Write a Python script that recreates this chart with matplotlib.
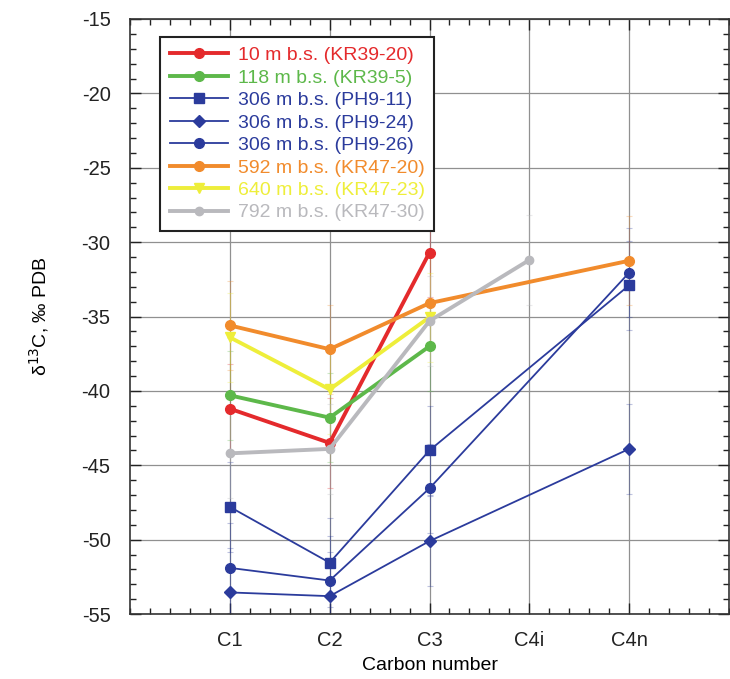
import matplotlib
matplotlib.use("Agg")
import matplotlib.pyplot as plt
from matplotlib.ticker import MultipleLocator, FixedLocator
import numpy as np

plt.rcParams['font.family'] = ['Liberation Sans', 'DejaVu Sans']
plt.rcParams['axes.unicode_minus'] = False

categories = ["C1", "C2", "C3", "C4i", "C4n"]

labels = ["10 m b.s. (KR39-20)", "118 m b.s. (KR39-5)", "306 m b.s. (PH9-11)",
          "306 m b.s. (PH9-24)", "306 m b.s. (PH9-26)", "592 m b.s. (KR47-20)",
          "640 m b.s. (KR47-23)", "792 m b.s. (KR47-30)"]

# x category per series and values
kr39_20_x = ["C1", "C2", "C3"]
kr39_20 = [-41.2, -43.5, -30.7]
kr39_5_x = ["C1", "C2", "C3"]
kr39_5 = [-40.3, -41.8, -37.0]
ph9_11_x = ["C1", "C2", "C3", "C4n"]
ph9_11 = [-47.8, -51.55, -44.0, -32.9]
ph9_24_x = ["C1", "C2", "C3", "C4n"]
ph9_24 = [-53.55, -53.8, -50.1, -43.9]
ph9_26_x = ["C1", "C2", "C3", "C4n"]
ph9_26 = [-51.9, -52.75, -46.55, -32.05]
kr47_20_x = ["C1", "C2", "C3", "C4n"]
kr47_20 = [-35.6, -37.2, -34.1, -31.25]
kr47_23_x = ["C1", "C2", "C3"]
kr47_23 = [-36.4, -39.9, -35.05]
kr47_30_x = ["C1", "C2", "C3", "C4i"]
kr47_30 = [-44.2, -43.9, -35.3, -31.2]

# approximate analytical uncertainty (faint error bars)
err = 3.0

colors = ["#e42a2c", "#5db84a", "#2b3b9c", "#2b3b9c", "#2b3b9c",
          "#f18b2c", "#eeee3a", "#b9b9bd"]
markers = ["o", "o", "s", "D", "o", "o", "v", "o"]
lws = [2.8, 2.8, 1.3, 1.3, 1.3, 2.8, 2.8, 2.8]
msizes = [7, 7, 7.5, 6.5, 7, 7, 7, 6]

series_x = [kr39_20_x, kr39_5_x, ph9_11_x, ph9_24_x, ph9_26_x, kr47_20_x, kr47_23_x, kr47_30_x]
series_y = [kr39_20, kr39_5, ph9_11, ph9_24, ph9_26, kr47_20, kr47_23, kr47_30]

fig = plt.figure(figsize=(7.30, 6.79), dpi=100)
ax = fig.add_axes([130/730, 1-614/679, 599/730, (614-19)/679])

pos = {c: i + 1 for i, c in enumerate(categories)}

for xs, ys, c, m, lw, ms, lab in zip(series_x, series_y, colors, markers, lws, msizes, labels):
    xp = [pos[x] for x in xs]
    ax.errorbar(xp, ys, yerr=err, fmt='none', ecolor=c, elinewidth=0.8,
                capsize=2, capthick=0.8, alpha=0.3, zorder=2)
    ax.plot(xp, ys, color=c, marker=m, lw=lw, ms=ms, label=lab, zorder=3)

ax.set_xlim(0, 6)
ax.set_ylim(-55, -15)
ax.xaxis.set_major_locator(FixedLocator([1, 2, 3, 4, 5]))
ax.set_xticklabels(categories)
ax.xaxis.set_minor_locator(MultipleLocator(0.2))
ax.yaxis.set_major_locator(MultipleLocator(5))
ax.yaxis.set_minor_locator(MultipleLocator(1))
ax.grid(True, which='major', color='#909090', lw=0.9, zorder=0)
ax.set_axisbelow(True)
ax.tick_params(which='both', direction='in', top=True, right=True, labelsize=14.5, colors='#222222')
ax.tick_params(which='major', length=8, width=1.0)
ax.tick_params(which='minor', length=4, width=1.0)
ax.tick_params(axis='x', pad=12)
ax.tick_params(axis='y', pad=14)
for s in ax.spines.values():
    s.set_color('#333333')
    s.set_linewidth(1.2)

ax.set_xlabel("Carbon number", fontsize=14, labelpad=5)
ax.set_ylabel(r"δ$^{13}$C, ‰ PDB", fontsize=14, labelpad=22)

leg = ax.legend(loc='upper left', bbox_to_anchor=(0.05, 0.97), fontsize=14,
                labelcolor='linecolor', frameon=True, fancybox=False,
                edgecolor='#222222', framealpha=1, handlelength=3.0,
                borderpad=0.5, labelspacing=0.25, handletextpad=0.5,
                borderaxespad=0)
leg.get_frame().set_linewidth(1.5)

fig.savefig("out.png", dpi=100)
